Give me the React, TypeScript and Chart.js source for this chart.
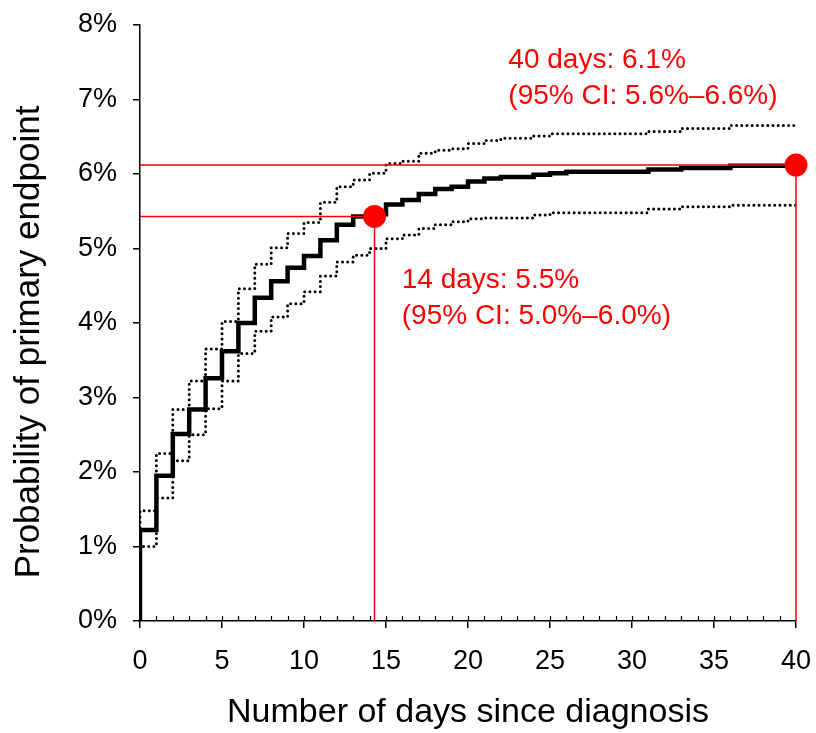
import React, { useEffect, useRef } from "react";
import { Chart, registerables } from "chart.js";

Chart.register(...registerables);

// ---- data ----
const days = Array.from({ length: 41 }, (_, i) => i);
// cumulative probability (%) holding on [day, day+1)
const estimate = [
  1.22, 1.95, 2.51, 2.84, 3.26, 3.62, 4.0, 4.34, 4.56, 4.74,
  4.9, 5.11, 5.32, 5.43, 5.46, 5.59, 5.65, 5.73, 5.8, 5.83,
  5.9, 5.94, 5.96, 5.96, 5.99, 6.01, 6.03, 6.03, 6.03, 6.03,
  6.03, 6.06, 6.06, 6.08, 6.08, 6.08, 6.11, 6.11, 6.11, 6.11, 6.11,
];
const upperCI = [
  1.48, 2.25, 2.84, 3.22, 3.65, 4.02, 4.46, 4.79, 5.01, 5.2,
  5.35, 5.62, 5.83, 5.92, 6.01, 6.14, 6.17, 6.28, 6.32, 6.34,
  6.41, 6.45, 6.48, 6.48, 6.51, 6.54, 6.54, 6.54, 6.54, 6.54,
  6.54, 6.57, 6.57, 6.61, 6.61, 6.61, 6.65, 6.65, 6.65, 6.65, 6.65,
];
const lowerCI = [
  1.0, 1.65, 2.15, 2.5, 2.85, 3.22, 3.59, 3.89, 4.08, 4.26,
  4.42, 4.63, 4.82, 4.91, 5.0, 5.13, 5.18, 5.27, 5.32, 5.36,
  5.4, 5.41, 5.41, 5.41, 5.45, 5.48, 5.48, 5.48, 5.48, 5.48,
  5.48, 5.53, 5.53, 5.56, 5.56, 5.56, 5.58, 5.58, 5.58, 5.58, 5.58,
];
const markerDays = [14.3, 40];
const markerValues = [5.43, 6.12];
const markerLabels = [
  ["14 days: 5.5%", "(95% CI: 5.0%\u20136.0%)"],
  ["40 days: 6.1%", "(95% CI: 5.6%\u20136.6%)"],
];
const labelAnchorDays = [15.96, 22.46];
const labelAnchorValues = [4.58, 7.53];
const xTickStep = 5;
const yTickStep = 1;
const xMax = 40;
const yMax = 8;
const xTitle = "Number of days since diagnosis";
const yTitle = "Probability of primary endpoint";

const FONT = '"Liberation Sans", Arial, Helvetica, sans-serif';

function stepPoints(vals: number[]) {
  return [{ x: 0, y: 0 }, ...days.map((d, i) => ({ x: d, y: vals[i] }))];
}

const overlayPlugin = {
  id: "overlay",
  afterDatasetsDraw(chart: any) {
    const { ctx, chartArea } = chart;
    const x = chart.scales.x;
    const y = chart.scales.y;
    ctx.save();
    // minor inward ticks on x axis, one per day
    ctx.strokeStyle = "#000";
    ctx.lineWidth = 1.2;
    for (let d = 1; d < xMax; d++) {
      const px = Math.round(x.getPixelForValue(d)) + 0.5;
      ctx.beginPath();
      ctx.moveTo(px, y.bottom);
      ctx.lineTo(px, y.bottom - 5);
      ctx.stroke();
    }
    // y-axis title (rotated), centred slightly below the plot's middle
    ctx.fillStyle = "#000";
    ctx.font = `35px ${FONT}`;
    ctx.textAlign = "center";
    ctx.textBaseline = "middle";
    ctx.save();
    ctx.translate(29, (chartArea.top + chartArea.bottom) / 2 + 19);
    ctx.rotate(-Math.PI / 2);
    ctx.fillText(yTitle, 0, 0);
    ctx.restore();
    // red annotation texts
    ctx.fillStyle = "#ff0000";
    ctx.font = `28px ${FONT}`;
    ctx.textAlign = "left";
    ctx.textBaseline = "middle";
    markerLabels.forEach((lines, i) => {
      const px = x.getPixelForValue(labelAnchorDays[i]);
      const py = y.getPixelForValue(labelAnchorValues[i]);
      lines.forEach((t, j) => ctx.fillText(t, px, py + j * 36));
    });
    ctx.restore();
  },
};

export default function App() {
  const ref = useRef<HTMLCanvasElement | null>(null);

  useEffect(() => {
    document.body.style.margin = "0";
    const canvas = ref.current!;
    const guideSets = markerDays.map((d, i) => ({
      type: "line" as const,
      data: [
        { x: 0, y: markerValues[i] },
        { x: d, y: markerValues[i] },
        { x: d, y: 0 },
      ],
      borderColor: "#ff0000",
      borderWidth: 1.5,
      pointRadius: 0,
      fill: false,
      clip: false as any,
    }));
    const dotted = {
      stepped: true,
      borderColor: "#000",
      borderWidth: 3,
      borderDash: [0, 5.2],
      borderCapStyle: "round",
      pointRadius: 0,
      fill: false,
    };
    const chart = new Chart(canvas, {
      type: "line",
      data: {
        datasets: [
          {
            data: markerDays.map((d, i) => ({ x: d, y: markerValues[i] })),
            showLine: false,
            pointRadius: 11.5,
            pointBackgroundColor: "#ff0000",
            pointBorderWidth: 0,
            clip: false as any,
          },
          ...guideSets,
          {
            data: stepPoints(estimate),
            stepped: true,
            borderColor: "#000",
            borderWidth: 4.5,
            pointRadius: 0,
            borderJoinStyle: "miter",
            fill: false,
          },
          { ...dotted, data: stepPoints(upperCI) },
          { ...dotted, data: stepPoints(lowerCI) },
        ] as any,
      },
      options: {
        animation: false,
        responsive: false,
        devicePixelRatio: 1,
        layout: { padding: { top: 25, right: 20, left: 0, bottom: 0 } },
        plugins: { legend: { display: false }, tooltip: { enabled: false } },
        scales: {
          x: {
            type: "linear",
            min: 0,
            max: xMax,
            ticks: {
              stepSize: xTickStep,
              color: "#000",
              font: { family: FONT, size: 27 },
              padding: 17,
              maxRotation: 0,
              autoSkip: false,
            },
            grid: {
              drawOnChartArea: false,
              drawTicks: true,
              tickLength: 7,
              color: "#000",
              lineWidth: 1.5,
            },
            border: { display: true, color: "#000", width: 1.5 },
            title: {
              display: true,
              text: xTitle,
              color: "#000",
              font: { family: FONT, size: 34 },
              padding: { top: 0, bottom: 0 },
            },
            afterFit: (s: any) => {
              s.height = 112;
              s.paddingLeft = 0;
              s.paddingRight = 0;
            },
          },
          y: {
            type: "linear",
            min: 0,
            max: yMax,
            ticks: {
              stepSize: yTickStep,
              color: "#000",
              font: { family: FONT, size: 27 },
              padding: 16,
              callback: (v: any) => `${v}%`,
            },
            grid: {
              drawOnChartArea: false,
              drawTicks: true,
              tickLength: 7,
              color: "#000",
              lineWidth: 1.5,
            },
            border: { display: true, color: "#000", width: 1.5 },
            title: { display: false, text: yTitle },
            afterFit: (s: any) => {
              s.width = 140;
              s.paddingTop = 0;
              s.paddingBottom = 0;
            },
          },
        },
      } as any,
      plugins: [overlayPlugin],
    });
    return () => chart.destroy();
  }, []);

  return (
    <div style={{ width: 816, height: 733 }}>
      <canvas ref={ref} width={816} height={733} style={{ display: "block" }} />
    </div>
  );
}
